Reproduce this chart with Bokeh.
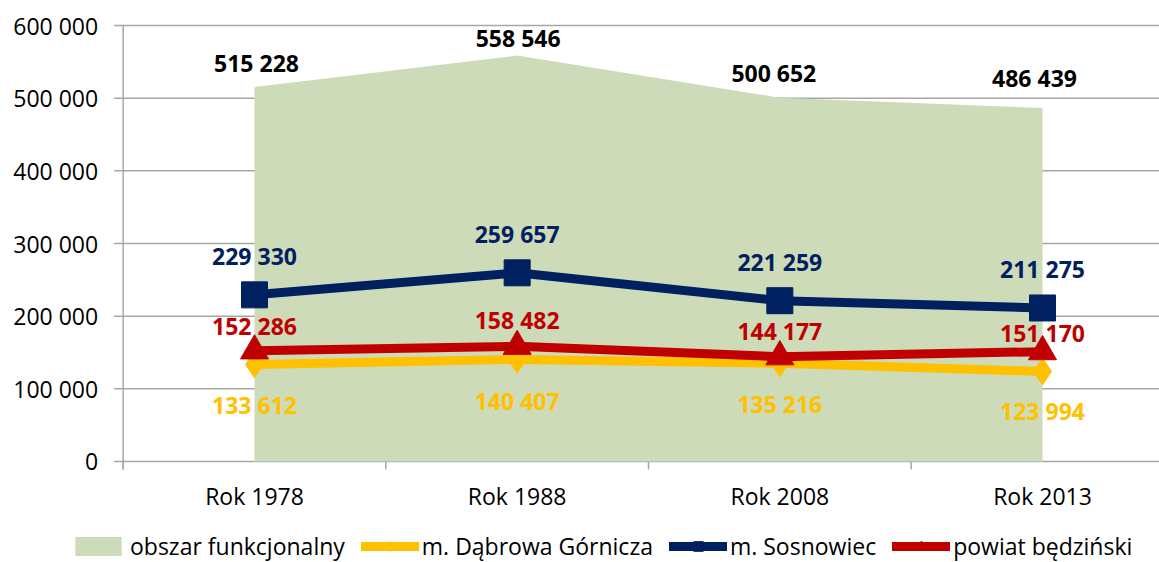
from bokeh.plotting import figure
from bokeh.models import Range1d, Legend, LegendItem, LabelSet, ColumnDataSource
from bokeh.core.properties import value
from bokeh.embed import file_html
from bokeh.resources import INLINE

# ---------------- data ----------------
categories = ["Rok 1978", "Rok 1988", "Rok 2008", "Rok 2013"]
obszar = [515228, 558546, 500652, 486439]
dabrowa = [133612, 140407, 135216, 123994]
sosnowiec = [229330, 259657, 221259, 211275]
bedzinski = [152286, 158482, 144177, 151170]
series_names = ["obszar funkcjonalny", "m. Dąbrowa Górnicza", "m. Sosnowiec", "powiat będziński"]
y_ticks = [0, 100000, 200000, 300000, 400000, 500000, 600000]
y_tick_labels = ["0", "100 000", "200 000", "300 000", "400 000", "500 000", "600 000"]

# ---------------- styles ----------------
FONT = "Open Sans"
GREEN = "#CEDBB9"
YELLOW = "#FFC000"
BLUE = "#002060"
RED = "#C00000"
GRID = "#A6A6A6"
W, H = 1159, 562
# label offsets in screen pixels (positive = up)
obszar_dx = [2, 1, -6, -8]
obszar_dy = [24, 18, 25, 30]
dabrowa_dy = [-41, -42, -41, -40]
sosnowiec_dy = [39, 39, 39, 39]
bedzinski_dy = [25, 26, 26, 19]

x_pos = list(range(1, len(categories) + 1))
boundaries = [i + 0.5 for i in range(len(categories) + 1)]

# plot-area geometry (pixels): category pitch, plot-area top/bottom
PITCH = 262.67
FIRST_CENTER = 254
TOP_PX, ZERO_PX = 25, 461
Y_MAX = y_ticks[-1]
ypp = Y_MAX / (ZERO_PX - TOP_PX)          # data units per pixel (y)
xpp = 1.0 / PITCH                          # data units per pixel (x)
x0 = x_pos[0] - FIRST_CENTER * xpp
x1 = x0 + W * xpp
y1 = Y_MAX + TOP_PX * ypp
y0 = -(H - ZERO_PX) * ypp
TICK = 9


def fmt(v):
    return f"{v:,}".replace(",", " ")


p = figure(width=W, height=H, output_backend="svg", toolbar_location=None,
           x_range=Range1d(x0, x1), y_range=Range1d(y0, y1), min_border=0)
p.outline_line_color = None
p.axis.visible = False
p.grid.visible = False
p.background_fill_color = "white"
p.border_fill_color = "white"

axis_x = boundaries[0]
# horizontal gridlines (including value axis ticks)
p.segment(x0=[axis_x - TICK * xpp] * len(y_ticks), y0=y_ticks,
          x1=[x1] * len(y_ticks), y1=y_ticks, line_color=GRID, line_width=1.5)
# value axis line
p.segment(x0=[axis_x], y0=[-8 * ypp], x1=[axis_x], y1=[Y_MAX], line_color=GRID, line_width=1.5)
# category axis ticks between categories
p.segment(x0=boundaries, y0=[0] * len(boundaries), x1=boundaries,
          y1=[-8 * ypp] * len(boundaries), line_color=GRID, line_width=1.5)

# tick labels
ysrc = ColumnDataSource(dict(x=[axis_x] * len(y_ticks), y=y_ticks, t=y_tick_labels))
p.add_layout(LabelSet(x="x", y="y", text="t", source=ysrc, x_offset=-25,
                      text_align="right", text_baseline="middle", text_font=value(FONT),
                      text_font_size=value("23px"), text_color=value("black")))
xsrc = ColumnDataSource(dict(x=x_pos, y=[0] * len(x_pos), t=categories))
p.add_layout(LabelSet(x="x", y="y", text="t", source=xsrc, y_offset=-34,
                      text_align="center", text_baseline="middle", text_font=value(FONT),
                      text_font_size=value("23px"), text_color=value("black")))

# glyphs
area_r = p.varea(x=x_pos, y1=[0] * len(x_pos), y2=obszar, fill_color=GREEN)

yl = p.line(x_pos, dabrowa, line_color=YELLOW, line_width=9, line_cap="round")
ym = p.scatter(x_pos, dabrowa, marker="diamond", size=27, fill_color=YELLOW, line_color=YELLOW)
bl = p.line(x_pos, sosnowiec, line_color=BLUE, line_width=9, line_cap="round")
bm = p.scatter(x_pos, sosnowiec, marker="square", size=26, fill_color=BLUE, line_color=BLUE)
rl = p.line(x_pos, bedzinski, line_color=RED, line_width=9, line_cap="round")
rm = p.scatter(x_pos, bedzinski, marker="triangle", size=28, fill_color=RED, line_color=RED)


def add_labels(vals, dy, color, dx=None):
    src = ColumnDataSource(dict(x=x_pos, y=vals, t=[fmt(v) for v in vals], dy=dy,
                                dx=dx if dx is not None else [0] * len(vals)))
    ls = LabelSet(x="x", y="y", text="t", source=src, x_offset="dx", y_offset="dy",
                  text_align="center", text_baseline="middle", text_font=value(FONT),
                  text_font_size=value("23px"), text_font_style=value("bold"),
                  text_color=value(color))
    p.add_layout(ls)


add_labels(obszar, obszar_dy, "black", obszar_dx)
add_labels(dabrowa, dabrowa_dy, YELLOW)
add_labels(sosnowiec, sosnowiec_dy, BLUE)
add_labels(bedzinski, bedzinski_dy, RED)

legend = Legend(items=[
    LegendItem(label=series_names[0], renderers=[area_r]),
    LegendItem(label=series_names[1], renderers=[yl, ym]),
    LegendItem(label=series_names[2], renderers=[bl, bm]),
    LegendItem(label=series_names[3], renderers=[rl, rm]),
], orientation="horizontal", location=(69, 0))
legend.background_fill_alpha = 0
legend.border_line_color = None
legend.label_text_font = FONT
legend.label_text_font_size = "23px"
legend.label_text_color = "black"
legend.glyph_width = 58
legend.glyph_height = 24
legend.label_standoff = 3
legend.spacing = 16
legend.padding = 0
legend.margin = 0
p.add_layout(legend)

open("out.html", "w").write(file_html(p, INLINE))
